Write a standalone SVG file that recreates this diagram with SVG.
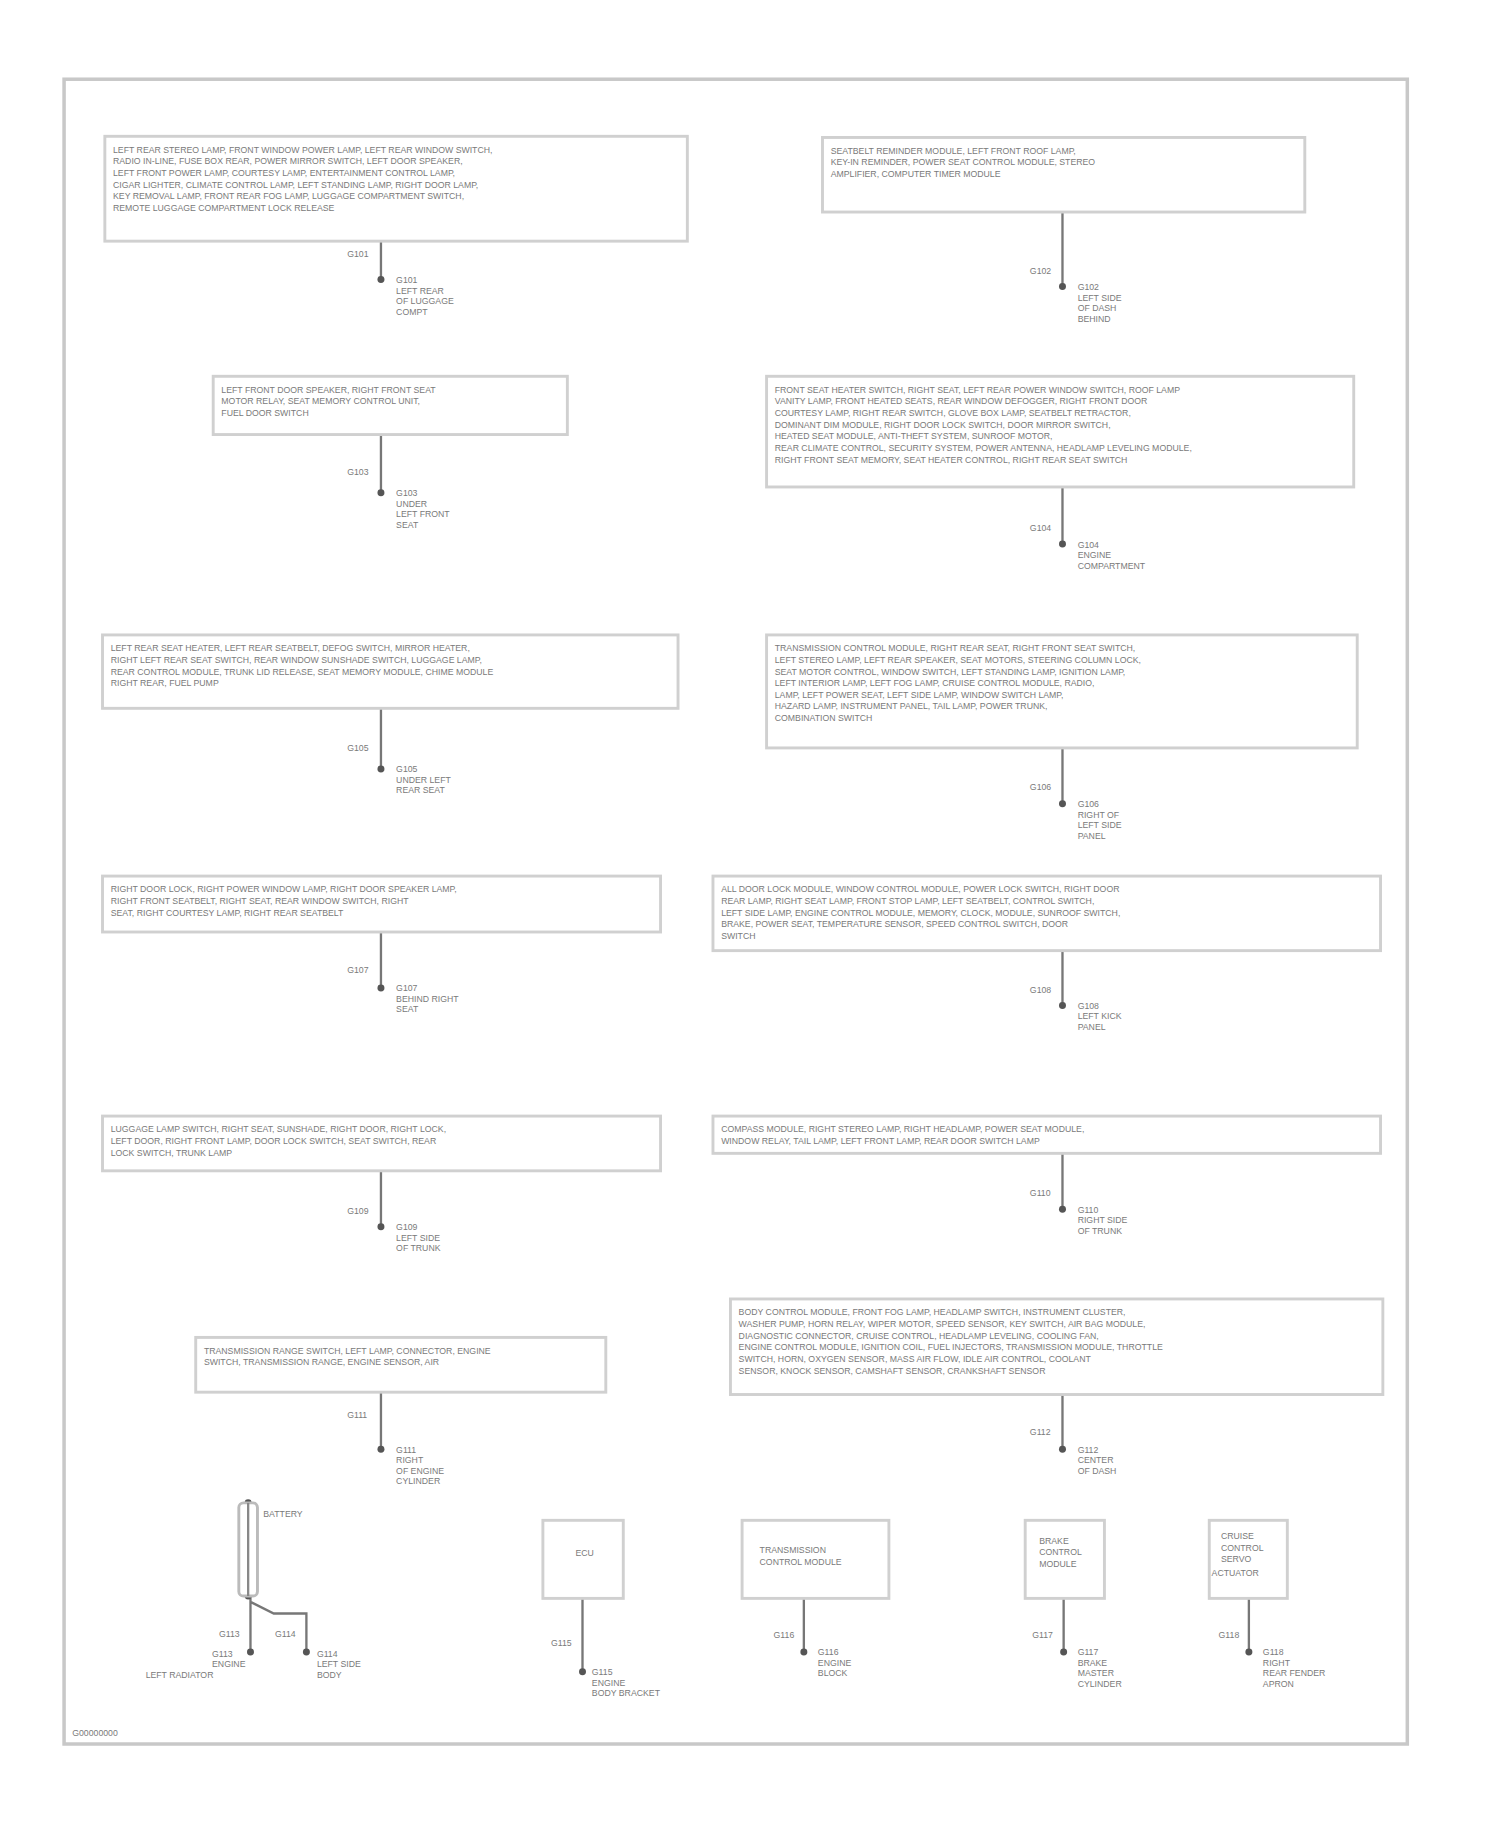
<svg xmlns="http://www.w3.org/2000/svg" width="1500" height="1828" viewBox="0 0 1500 1828">
<style>
.f{fill:none;stroke:#c8c8c8;stroke-width:3}
.b{fill:#fff;stroke:#d0d0d0;stroke-width:2.5}
.w{stroke:#777;stroke-width:2;fill:none}
.d{fill:#555}
text{font-family:"Liberation Sans",Arial,sans-serif;font-size:7.5px;fill:#7a7a7a}
</style>
<rect width="1500" height="1828" fill="#fff"/>
<g transform="scale(1.165)">
<rect class="f" x="55" y="68" width="1153" height="1429"/>
<g id="connectors">
<path class="w" d="M327 207V240M912 182V246M327 373V423M912 418V467M327 608V660M912 642V690M327 800V848M912 816V863M327 1005V1053M912 990V1038M327 1195V1244M912 1197V1244M215 1370V1418M215 1375L235 1385H263V1418M500 1372V1435M690 1372V1418M913 1372V1418M1072 1372V1418"/>
<g class="d"><circle cx="327" cy="240" r="3"/><circle cx="912" cy="246" r="3"/><circle cx="327" cy="423" r="3"/><circle cx="912" cy="467" r="3"/><circle cx="327" cy="660" r="3"/><circle cx="912" cy="690" r="3"/><circle cx="327" cy="848" r="3"/><circle cx="912" cy="863" r="3"/><circle cx="327" cy="1053" r="3"/><circle cx="912" cy="1038" r="3"/><circle cx="327" cy="1244" r="3"/><circle cx="912" cy="1244" r="3"/><circle cx="215" cy="1418" r="3"/><circle cx="263" cy="1418" r="3"/><circle cx="500" cy="1435" r="3"/><circle cx="690" cy="1418" r="3"/><circle cx="913" cy="1418" r="3"/><circle cx="1072" cy="1418" r="3"/><circle cx="213" cy="1290" r="3"/><circle cx="213" cy="1370" r="3"/></g>
</g>
<g id="n1"><rect class="b" x="90" y="117" width="500" height="90"/>
<text x="97" y="131">LEFT REAR STEREO LAMP, FRONT WINDOW POWER LAMP, LEFT REAR WINDOW SWITCH,</text><text x="97" y="141">RADIO IN-LINE, FUSE BOX REAR, POWER MIRROR SWITCH, LEFT DOOR SPEAKER,</text><text x="97" y="151">LEFT FRONT POWER LAMP, COURTESY LAMP, ENTERTAINMENT CONTROL LAMP,</text><text x="97" y="161">CIGAR LIGHTER, CLIMATE CONTROL LAMP, LEFT STANDING LAMP, RIGHT DOOR LAMP,</text><text x="97" y="171">KEY REMOVAL LAMP, FRONT REAR FOG LAMP, LUGGAGE COMPARTMENT SWITCH,</text><text x="97" y="181">REMOTE LUGGAGE COMPARTMENT LOCK RELEASE</text>
<text x="298" y="221">G101</text><text x="340" y="243">G101</text><text x="340" y="252">LEFT REAR</text><text x="340" y="261">OF LUGGAGE</text><text x="340" y="270">COMPT</text></g>
<g id="n2"><rect class="b" x="706" y="118" width="414" height="64"/>
<text x="713" y="132">SEATBELT REMINDER MODULE, LEFT FRONT ROOF LAMP,</text><text x="713" y="142">KEY-IN REMINDER, POWER SEAT CONTROL MODULE, STEREO</text><text x="713" y="152">AMPLIFIER, COMPUTER TIMER MODULE</text>
<text x="884" y="235">G102</text><text x="925" y="249">G102</text><text x="925" y="258">LEFT SIDE</text><text x="925" y="267">OF DASH</text><text x="925" y="276">BEHIND</text></g>
<g id="n3"><rect class="b" x="183" y="323" width="304" height="50"/>
<text x="190" y="337">LEFT FRONT DOOR SPEAKER, RIGHT FRONT SEAT</text><text x="190" y="347">MOTOR RELAY, SEAT MEMORY CONTROL UNIT,</text><text x="190" y="357">FUEL DOOR SWITCH</text>
<text x="298" y="408">G103</text><text x="340" y="426">G103</text><text x="340" y="435">UNDER</text><text x="340" y="444">LEFT FRONT</text><text x="340" y="453">SEAT</text></g>
<g id="n4"><rect class="b" x="658" y="323" width="504" height="95"/>
<text x="665" y="337">FRONT SEAT HEATER SWITCH, RIGHT SEAT, LEFT REAR POWER WINDOW SWITCH, ROOF LAMP</text><text x="665" y="347">VANITY LAMP, FRONT HEATED SEATS, REAR WINDOW DEFOGGER, RIGHT FRONT DOOR</text><text x="665" y="357">COURTESY LAMP, RIGHT REAR SWITCH, GLOVE BOX LAMP, SEATBELT RETRACTOR,</text><text x="665" y="367">DOMINANT DIM MODULE, RIGHT DOOR LOCK SWITCH, DOOR MIRROR SWITCH,</text><text x="665" y="377">HEATED SEAT MODULE, ANTI-THEFT SYSTEM, SUNROOF MOTOR,</text><text x="665" y="387">REAR CLIMATE CONTROL, SECURITY SYSTEM, POWER ANTENNA, HEADLAMP LEVELING MODULE,</text><text x="665" y="397">RIGHT FRONT SEAT MEMORY, SEAT HEATER CONTROL, RIGHT REAR SEAT SWITCH</text>
<text x="884" y="456">G104</text><text x="925" y="470">G104</text><text x="925" y="479">ENGINE</text><text x="925" y="488">COMPARTMENT</text></g>
<g id="n5"><rect class="b" x="88" y="545" width="494" height="63"/>
<text x="95" y="559">LEFT REAR SEAT HEATER, LEFT REAR SEATBELT, DEFOG SWITCH, MIRROR HEATER,</text><text x="95" y="569">RIGHT LEFT REAR SEAT SWITCH, REAR WINDOW SUNSHADE SWITCH, LUGGAGE LAMP,</text><text x="95" y="579">REAR CONTROL MODULE, TRUNK LID RELEASE, SEAT MEMORY MODULE, CHIME MODULE</text><text x="95" y="589">RIGHT REAR, FUEL PUMP</text>
<text x="298" y="645">G105</text><text x="340" y="663">G105</text><text x="340" y="672">UNDER LEFT</text><text x="340" y="681">REAR SEAT</text></g>
<g id="n6"><rect class="b" x="658" y="545" width="507" height="97"/>
<text x="665" y="559">TRANSMISSION CONTROL MODULE, RIGHT REAR SEAT, RIGHT FRONT SEAT SWITCH,</text><text x="665" y="569">LEFT STEREO LAMP, LEFT REAR SPEAKER, SEAT MOTORS, STEERING COLUMN LOCK,</text><text x="665" y="579">SEAT MOTOR CONTROL, WINDOW SWITCH, LEFT STANDING LAMP, IGNITION LAMP,</text><text x="665" y="589">LEFT INTERIOR LAMP, LEFT FOG LAMP, CRUISE CONTROL MODULE, RADIO,</text><text x="665" y="599">LAMP, LEFT POWER SEAT, LEFT SIDE LAMP, WINDOW SWITCH LAMP,</text><text x="665" y="609">HAZARD LAMP, INSTRUMENT PANEL, TAIL LAMP, POWER TRUNK,</text><text x="665" y="619">COMBINATION SWITCH</text>
<text x="884" y="678">G106</text><text x="925" y="693">G106</text><text x="925" y="702">RIGHT OF</text><text x="925" y="711">LEFT SIDE</text><text x="925" y="720">PANEL</text></g>
<g id="n7"><rect class="b" x="88" y="752" width="479" height="48"/>
<text x="95" y="766">RIGHT DOOR LOCK, RIGHT POWER WINDOW LAMP, RIGHT DOOR SPEAKER LAMP,</text><text x="95" y="776">RIGHT FRONT SEATBELT, RIGHT SEAT, REAR WINDOW SWITCH, RIGHT</text><text x="95" y="786">SEAT, RIGHT COURTESY LAMP, RIGHT REAR SEATBELT</text>
<text x="298" y="835">G107</text><text x="340" y="851">G107</text><text x="340" y="860">BEHIND RIGHT</text><text x="340" y="869">SEAT</text></g>
<g id="n8"><rect class="b" x="612" y="752" width="573" height="64"/>
<text x="619" y="766">ALL DOOR LOCK MODULE, WINDOW CONTROL MODULE, POWER LOCK SWITCH, RIGHT DOOR</text><text x="619" y="776">REAR LAMP, RIGHT SEAT LAMP, FRONT STOP LAMP, LEFT SEATBELT, CONTROL SWITCH,</text><text x="619" y="786">LEFT SIDE LAMP, ENGINE CONTROL MODULE, MEMORY, CLOCK, MODULE, SUNROOF SWITCH,</text><text x="619" y="796">BRAKE, POWER SEAT, TEMPERATURE SENSOR, SPEED CONTROL SWITCH, DOOR</text><text x="619" y="806">SWITCH</text>
<text x="884" y="852">G108</text><text x="925" y="866">G108</text><text x="925" y="875">LEFT KICK</text><text x="925" y="884">PANEL</text></g>
<g id="n9"><rect class="b" x="88" y="958" width="479" height="47"/>
<text x="95" y="972">LUGGAGE LAMP SWITCH, RIGHT SEAT, SUNSHADE, RIGHT DOOR, RIGHT LOCK,</text><text x="95" y="982">LEFT DOOR, RIGHT FRONT LAMP, DOOR LOCK SWITCH, SEAT SWITCH, REAR</text><text x="95" y="992">LOCK SWITCH, TRUNK LAMP</text>
<text x="298" y="1042">G109</text><text x="340" y="1056">G109</text><text x="340" y="1065">LEFT SIDE</text><text x="340" y="1074">OF TRUNK</text></g>
<g id="n10"><rect class="b" x="612" y="958" width="573" height="32"/>
<text x="619" y="972">COMPASS MODULE, RIGHT STEREO LAMP, RIGHT HEADLAMP, POWER SEAT MODULE,</text><text x="619" y="982">WINDOW RELAY, TAIL LAMP, LEFT FRONT LAMP, REAR DOOR SWITCH LAMP</text>
<text x="884" y="1027">G110</text><text x="925" y="1041">G110</text><text x="925" y="1050">RIGHT SIDE</text><text x="925" y="1059">OF TRUNK</text></g>
<g id="n11"><rect class="b" x="168" y="1148" width="352" height="47"/>
<text x="175" y="1162">TRANSMISSION RANGE SWITCH, LEFT LAMP, CONNECTOR, ENGINE</text><text x="175" y="1172">SWITCH, TRANSMISSION RANGE, ENGINE SENSOR, AIR</text>
<text x="298" y="1217">G111</text><text x="340" y="1247">G111</text><text x="340" y="1256">RIGHT</text><text x="340" y="1265">OF ENGINE</text><text x="340" y="1274">CYLINDER</text></g>
<g id="n12"><rect class="b" x="627" y="1115" width="560" height="82"/>
<text x="634" y="1129">BODY CONTROL MODULE, FRONT FOG LAMP, HEADLAMP SWITCH, INSTRUMENT CLUSTER,</text><text x="634" y="1139">WASHER PUMP, HORN RELAY, WIPER MOTOR, SPEED SENSOR, KEY SWITCH, AIR BAG MODULE,</text><text x="634" y="1149">DIAGNOSTIC CONNECTOR, CRUISE CONTROL, HEADLAMP LEVELING, COOLING FAN,</text><text x="634" y="1159">ENGINE CONTROL MODULE, IGNITION COIL, FUEL INJECTORS, TRANSMISSION MODULE, THROTTLE</text><text x="634" y="1169">SWITCH, HORN, OXYGEN SENSOR, MASS AIR FLOW, IDLE AIR CONTROL, COOLANT</text><text x="634" y="1179">SENSOR, KNOCK SENSOR, CAMSHAFT SENSOR, CRANKSHAFT SENSOR</text>
<text x="884" y="1232">G112</text><text x="925" y="1247">G112</text><text x="925" y="1256">CENTER</text><text x="925" y="1265">OF DASH</text></g>
<g id="battery"><rect x="205" y="1290" width="16" height="80" rx="4" fill="#fff" stroke="#bbb" stroke-width="2.5"/><line x1="213" y1="1290" x2="213" y2="1370" stroke="#888" stroke-width="2"/>
<text x="226" y="1302">BATTERY</text>
<text x="188" y="1405">G113</text><text x="236" y="1405">G114</text>
<text x="182" y="1422">G113</text><text x="182" y="1431">ENGINE</text><text x="125" y="1440">LEFT RADIATOR</text>
<text x="272" y="1422">G114</text><text x="272" y="1431">LEFT SIDE</text><text x="272" y="1440">BODY</text></g>
<g id="n13"><rect class="b" x="466" y="1305" width="69" height="67"/><text x="494" y="1336">ECU</text>
<text x="473" y="1413">G115</text><text x="508" y="1438">G115</text><text x="508" y="1447">ENGINE</text><text x="508" y="1456">BODY BRACKET</text></g>
<g id="n14"><rect class="b" x="637" y="1305" width="126" height="67"/><text x="652" y="1333">TRANSMISSION</text><text x="652" y="1343">CONTROL MODULE</text>
<text x="664" y="1406">G116</text><text x="702" y="1421">G116</text><text x="702" y="1430">ENGINE</text><text x="702" y="1439">BLOCK</text></g>
<g id="n15"><rect class="b" x="880" y="1305" width="68" height="67"/><text x="892" y="1325">BRAKE</text><text x="892" y="1335">CONTROL</text><text x="892" y="1345">MODULE</text>
<text x="886" y="1406">G117</text><text x="925" y="1421">G117</text><text x="925" y="1430">BRAKE</text><text x="925" y="1439">MASTER</text><text x="925" y="1448">CYLINDER</text></g>
<g id="n16"><rect class="b" x="1038" y="1305" width="67" height="67"/><text x="1048" y="1321">CRUISE</text><text x="1048" y="1331">CONTROL</text><text x="1048" y="1341">SERVO</text><text x="1040" y="1353">ACTUATOR</text>
<text x="1046" y="1406">G118</text><text x="1084" y="1421">G118</text><text x="1084" y="1430">RIGHT</text><text x="1084" y="1439">REAR FENDER</text><text x="1084" y="1448">APRON</text></g>
<text x="62" y="1490">G00000000</text>
</g>
</svg>
